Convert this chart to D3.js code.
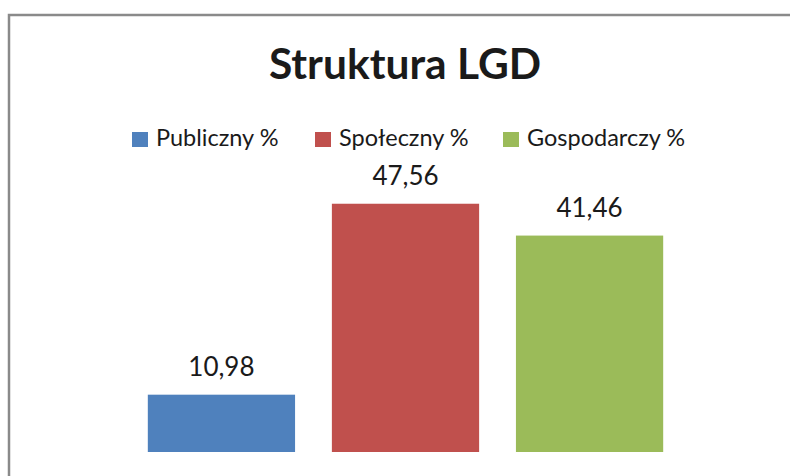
<!DOCTYPE html>
<html>
<head>
<meta charset="utf-8">
<script src="https://cdn.jsdelivr.net/npm/d3@7"></script>
<style>
  body { margin: 0; background: #fff; }
  text { font-family: Lato, "Open Sans", sans-serif; fill: #1a1a1a; }
</style>
</head>
<body>
<div id="chart"></div>
<script>
(function(){
  const categories = ["Publiczny %", "Społeczny %", "Gospodarczy %"];
  const values = [10.98, 47.56, 41.46];
  const colors = ["#4F81BD", "#C0504D", "#9BBB59"];
  const title = "Struktura LGD";

  const width = 790, height = 476;

  const svg = d3.select("#chart").append("svg")
      .attr("width", width)
      .attr("height", height);

  // frame (only left + top visible, chart is cropped)
  svg.append("path")
      .attr("d", "M9," + height + "V15H" + width)
      .attr("fill", "none")
      .attr("stroke", "#8a8a8a")
      .attr("stroke-width", 2.5);

  // title
  svg.append("text")
      .attr("x", 405)
      .attr("y", 79)
      .attr("text-anchor", "middle")
      .style("font-size", "42.5px")
      .style("font-weight", "bold")
      .text(title);

  // scales
  const x = d3.scaleBand()
      .domain(categories)
      .range([111, 700])
      .padding(0.2);

  const y = d3.scaleLinear()
      .domain([0, 50])
      .range([452, 191]);

  // bars
  svg.selectAll(".bar")
      .data(values)
      .enter().append("rect")
      .attr("class", "bar")
      .attr("x", (d, i) => x(categories[i]))
      .attr("y", d => y(d))
      .attr("width", x.bandwidth())
      .attr("height", d => y(0) - y(d))
      .attr("fill", (d, i) => colors[i]);

  // value labels
  svg.selectAll(".lbl")
      .data(values)
      .enter().append("text")
      .attr("class", "lbl")
      .attr("x", (d, i) => x(categories[i]) + x.bandwidth() / 2)
      .attr("y", d => y(d) - 18.5)
      .attr("text-anchor", "middle")
      .style("font-size", "26px")
      .text(d => d3.format(".2f")(d).replace(".", ","));

  // legend
  const legendX = [132, 315, 503];
  const legend = svg.selectAll(".leg")
      .data(categories)
      .enter().append("g")
      .attr("class", "leg")
      .attr("transform", (d, i) => `translate(${legendX[i]},132)`);

  legend.append("rect")
      .attr("width", 16)
      .attr("height", 15)
      .attr("fill", (d, i) => colors[i]);

  legend.append("text")
      .attr("x", 24)
      .attr("y", 14)
      .style("font-size", "23.5px")
      .text(d => d);
})();
</script>
</body>
</html>
